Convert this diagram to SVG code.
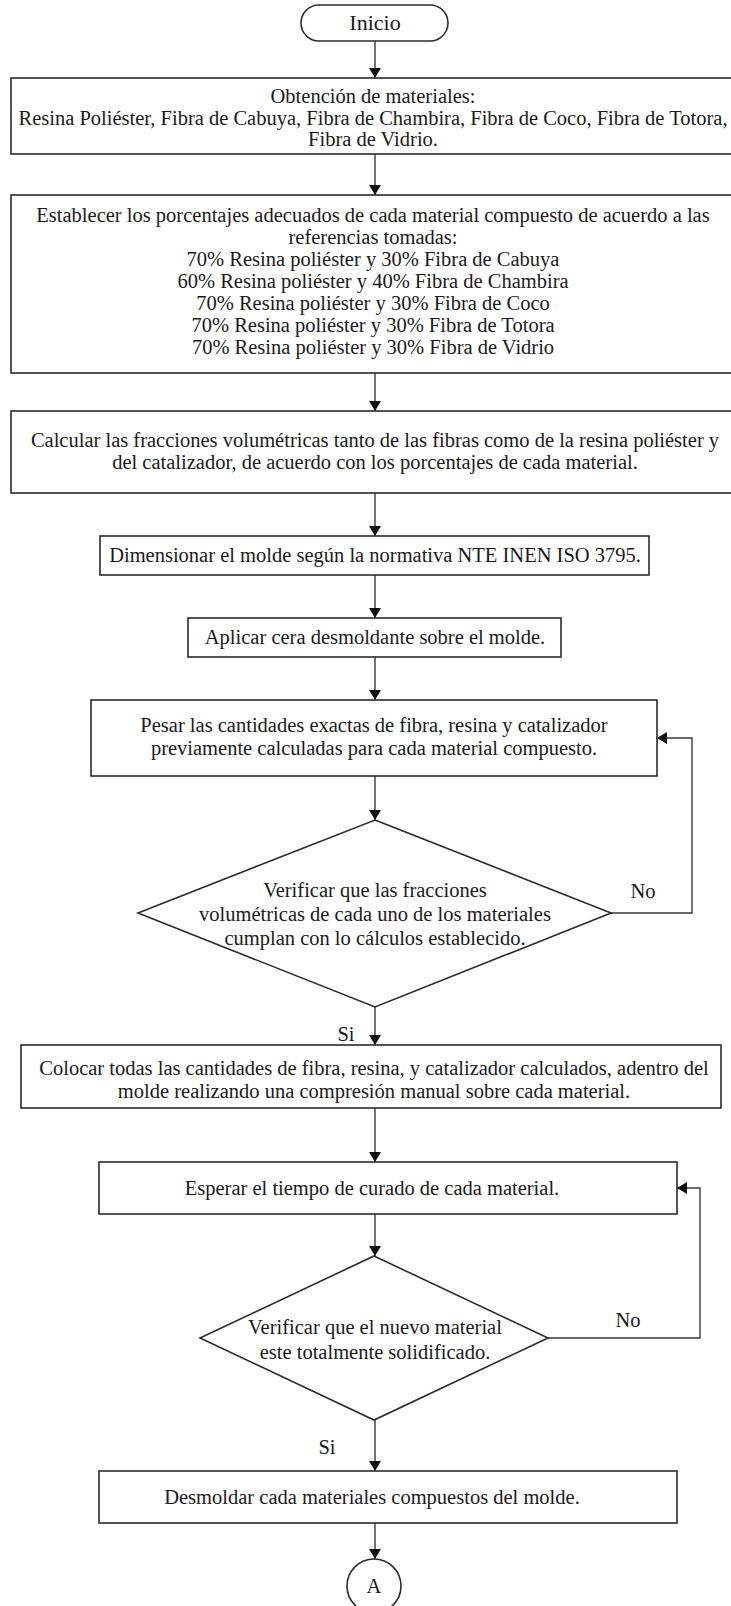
<svg xmlns="http://www.w3.org/2000/svg" width="731" height="1606" viewBox="0 0 731 1606">
<defs>
<style>
.box{fill:#fff;stroke:#2b2b2b;stroke-width:1.6}
.t{font-family:"Liberation Serif","Times New Roman",serif;font-size:20.5px;fill:#1a1a1a;text-anchor:middle}
.c{fill:none;stroke:#3a3a3a;stroke-width:1.4}
</style>
<marker id="ah" markerWidth="10" markerHeight="12" refX="10" refY="6" orient="auto" markerUnits="userSpaceOnUse" viewBox="0 0 10 12">
<path d="M0,0 L10,6 L0,12 z" fill="#111"/>
</marker>
</defs>
<rect x="0" y="0" width="731" height="1606" fill="#fff"/>
<g id="connectors">
<line class="c" x1="375" y1="41" x2="375" y2="78" marker-end="url(#ah)"/>
<line class="c" x1="375" y1="154" x2="375" y2="195" marker-end="url(#ah)"/>
<line class="c" x1="375" y1="373" x2="375" y2="411" marker-end="url(#ah)"/>
<line class="c" x1="375" y1="493" x2="375" y2="536" marker-end="url(#ah)"/>
<line class="c" x1="375" y1="575" x2="375" y2="618" marker-end="url(#ah)"/>
<line class="c" x1="375" y1="657" x2="375" y2="700" marker-end="url(#ah)"/>
<line class="c" x1="375" y1="776" x2="375" y2="820" marker-end="url(#ah)"/>
<polyline class="c" points="611,913 692,913 692,738 657,738" marker-end="url(#ah)"/>
<line class="c" x1="375" y1="1007" x2="375" y2="1045" marker-end="url(#ah)"/>
<line class="c" x1="375" y1="1108" x2="375" y2="1162" marker-end="url(#ah)"/>
<line class="c" x1="375" y1="1214" x2="375" y2="1256" marker-end="url(#ah)"/>
<polyline class="c" points="548,1338 700,1338 700,1188 677,1188" marker-end="url(#ah)"/>
<line class="c" x1="375" y1="1420" x2="375" y2="1471" marker-end="url(#ah)"/>
<line class="c" x1="375" y1="1523" x2="375" y2="1559" marker-end="url(#ah)"/>
<text class="t" x="643" y="898">No</text>
<text class="t" x="346" y="1041">Si</text>
<text class="t" x="628" y="1327">No</text>
<text class="t" x="327" y="1454">Si</text>
</g>
<g id="inicio">
<rect class="box" x="301" y="5" width="147" height="36" rx="18" ry="18"/>
<text class="t" x="375" y="30" style="font-size:22px">Inicio</text>
</g>
<g id="obtencion">
<rect class="box" x="11" y="78" width="730" height="76"/>
<text class="t" x="373" y="103">Obtención de materiales:</text>
<text class="t" x="373" y="124.5">Resina Poliéster, Fibra de Cabuya, Fibra de Chambira, Fibra de Coco, Fibra de Totora,</text>
<text class="t" x="373" y="146">Fibra de Vidrio.</text>
</g>
<g id="porcentajes">
<rect class="box" x="11" y="195" width="730" height="178"/>
<text class="t" x="373" y="222">Establecer los porcentajes adecuados de cada material compuesto de acuerdo a las</text>
<text class="t" x="373" y="244">referencias tomadas:</text>
<text class="t" x="373" y="266">70% Resina poliéster y 30% Fibra de Cabuya</text>
<text class="t" x="373" y="288">60% Resina poliéster y 40% Fibra de Chambira</text>
<text class="t" x="373" y="310">70% Resina poliéster y 30% Fibra de Coco</text>
<text class="t" x="373" y="332">70% Resina poliéster y 30% Fibra de Totora</text>
<text class="t" x="373" y="354">70% Resina poliéster y 30% Fibra de Vidrio</text>
</g>
<g id="calcular">
<rect class="box" x="11" y="411" width="730" height="82"/>
<text class="t" x="375" y="447">Calcular las fracciones volumétricas tanto de las fibras como de la resina poliéster y</text>
<text class="t" x="375" y="469">del catalizador, de acuerdo con los porcentajes de cada material.</text>
</g>
<g id="dimensionar">
<rect class="box" x="100" y="536" width="549" height="39"/>
<text class="t" x="375" y="562">Dimensionar el molde según la normativa NTE INEN ISO 3795.</text>
</g>
<g id="aplicar">
<rect class="box" x="188" y="618" width="373" height="39"/>
<text class="t" x="375" y="644">Aplicar cera desmoldante sobre el molde.</text>
</g>
<g id="pesar">
<rect class="box" x="91" y="700" width="566" height="76"/>
<text class="t" x="374" y="732">Pesar las cantidades exactas de fibra, resina y catalizador</text>
<text class="t" x="374" y="755">previamente calculadas para cada material compuesto.</text>
</g>
<g id="verificar1">
<polygon class="box" points="375,820 611,913 375,1007 138,913"/>
<text class="t" x="375" y="897">Verificar que las fracciones</text>
<text class="t" x="375" y="921">volumétricas de cada uno de los materiales</text>
<text class="t" x="375" y="945">cumplan con lo cálculos establecido.</text>
</g>
<g id="colocar">
<rect class="box" x="21" y="1045" width="700" height="63"/>
<text class="t" x="374" y="1075">Colocar todas las cantidades de fibra, resina, y catalizador calculados, adentro del</text>
<text class="t" x="374" y="1098">molde realizando una compresión manual sobre cada material.</text>
</g>
<g id="esperar">
<rect class="box" x="99" y="1162" width="578" height="52"/>
<text class="t" x="372" y="1195">Esperar el tiempo de curado de cada material.</text>
</g>
<g id="verificar2">
<polygon class="box" points="374,1256 548,1338 374,1420 200,1338"/>
<text class="t" x="375" y="1334">Verificar que el nuevo material</text>
<text class="t" x="375" y="1359">este totalmente solidificado.</text>
</g>
<g id="desmoldar">
<rect class="box" x="99" y="1471" width="578" height="52"/>
<text class="t" x="372" y="1504">Desmoldar cada materiales compuestos del molde.</text>
</g>
<g id="conectorA">
<circle class="box" cx="374" cy="1586" r="27"/>
<text class="t" x="374" y="1593">A</text>
</g>
</svg>
